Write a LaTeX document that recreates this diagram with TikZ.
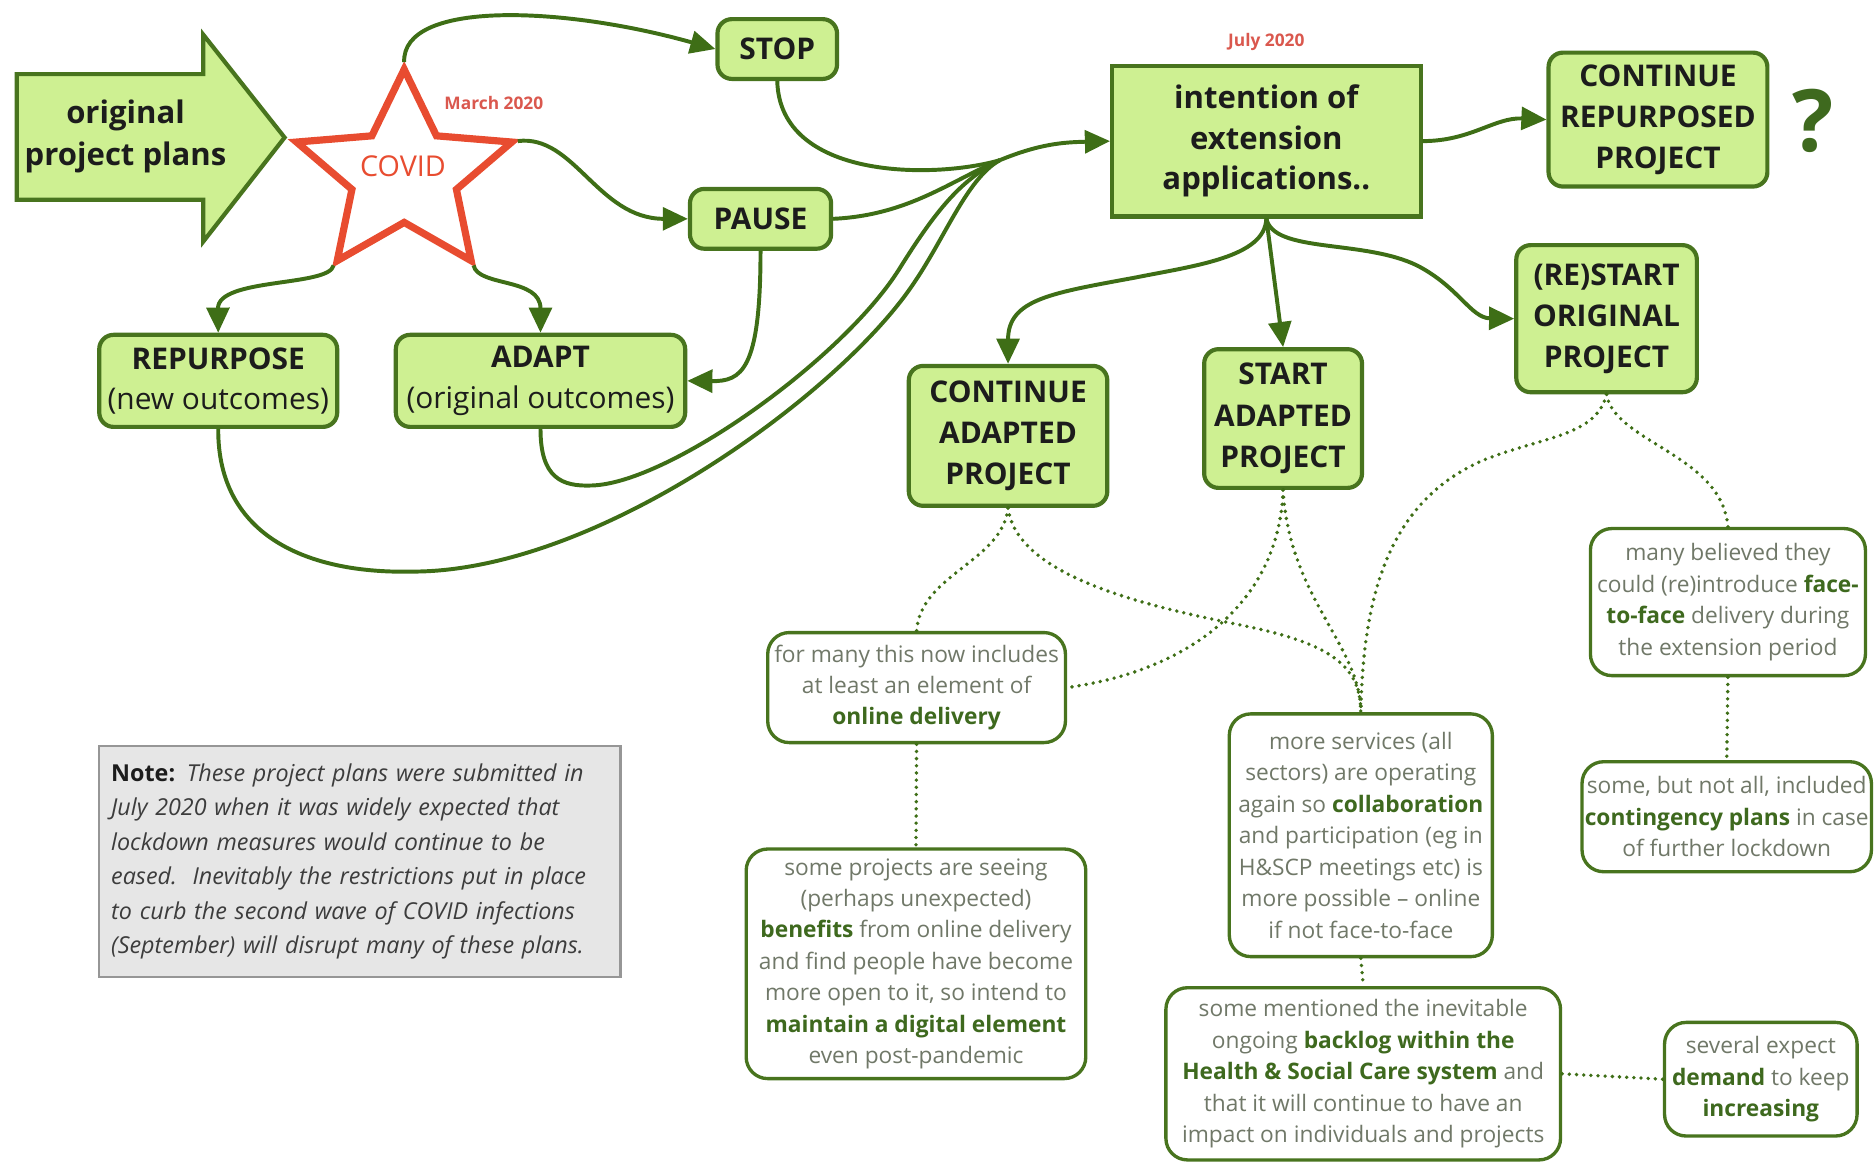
\documentclass[tikz,border=0pt]{standalone}
\usepackage{fontspec}
\setmainfont{Open Sans}
\usetikzlibrary{arrows.meta}

\definecolor{fillgreen}{RGB}{206,240,146}
\definecolor{edgegreen}{RGB}{72,116,30}
\definecolor{linegreen}{RGB}{62,110,22}
\definecolor{starred}{RGB}{232,76,48}
\definecolor{datered}{RGB}{218,88,78}
\definecolor{txtgrey}{RGB}{112,120,104}
\definecolor{hlgreen}{RGB}{62,105,30}
\definecolor{notefill}{RGB}{230,230,230}
\definecolor{noteedge}{RGB}{150,150,150}
\definecolor{notetext}{RGB}{60,60,60}
\definecolor{darktext}{RGB}{28,28,28}

\newcommand\hl[1]{\textbf{\color{hlgreen}#1}}

\begin{document}
\begin{tikzpicture}[x=1pt,y=-1pt,
  greenbox/.style={draw=edgegreen, fill=fillgreen, line width=3.5pt,
    rounded corners=12pt, align=center, text=darktext, inner sep=0pt,
    font={\fontsize{25}{34.5}\selectfont\bfseries}},
  greenboxmix/.style={greenbox, font={\fontsize{25}{34}\selectfont}},
  whitebox/.style={draw=edgegreen, fill=white, line width=2.8pt,
    rounded corners=18pt, align=center, text=txtgrey, inner sep=0pt,
    font={\fontsize{19}{26.3}\selectfont}},
  flow/.style={draw=linegreen, line width=3.3pt,
    -{Triangle[length=21pt,width=19pt]}},
  link/.style={draw=linegreen, line width=3.3pt},
  dots/.style={draw=linegreen, line width=3.2pt, line cap=round,
    dash pattern=on 0pt off 6pt},
  datelabel/.style={text=datered, font={\fontsize{14.5}{16}\selectfont\bfseries}}
]
\useasboundingbox (0,0) rectangle (1568,973);

% ---------- starting arrow ----------
\draw[draw=edgegreen, fill=fillgreen, line width=3.5pt, line join=miter]
  (14,62) -- (170,62) -- (170,29) -- (238,115) -- (170,202) -- (170,167)
  -- (14,167) -- cycle;
\node[align=center, text=darktext, font={\fontsize{26}{35}\selectfont\bfseries}]
  (plans) at (105,114) {original\\project plans};

% ---------- COVID star ----------
\draw[starred, line width=6pt, line join=miter, fill=white]
  (338,58) -- (365,113.6) -- (428,118.8) -- (381.7,158.4) -- (394,218)
  -- (338,186) -- (282,218) -- (294.3,158.4) -- (248,118.8)
  -- (311,113.6) -- cycle;
\node[text=starred, font={\fontsize{24}{28}\selectfont}] (covid) at (337,139) {COVID};
\node[datelabel] (march) at (413,86) {March 2020};
\coordinate (st-top) at (338,52);
\coordinate (st-ur) at (433,118);
\coordinate (st-ll) at (279,222);
\coordinate (st-lr) at (396,222);

% ---------- first reactions ----------
\node[greenbox, minimum width=100pt, minimum height=50pt] (stop) at (650,41) {STOP};
\node[greenbox, minimum width=118pt, minimum height=50pt] (pause) at (636,183) {PAUSE};
\node[greenboxmix, minimum width=199pt, minimum height=77pt] (repurpose) at (182.5,318.5)
  {\textbf{REPURPOSE}\\(new outcomes)};
\node[greenboxmix, minimum width=242pt, minimum height=77pt] (adapt) at (452,318.5)
  {\textbf{ADAPT}\\(original outcomes)};

% ---------- extension stage ----------
\node[greenbox, sharp corners, minimum width=258pt, minimum height=126pt, font={\fontsize{26}{34}\selectfont\bfseries}]
  (intent) at (1059,118) {intention of\\extension\\applications..};
\node[datelabel] (july) at (1059,35) {July 2020};
\node[greenbox, minimum width=183pt, minimum height=112pt] (contrep) at (1386.5,100)
  {CONTINUE\\REPURPOSED\\PROJECT};
\node[text=hlgreen, font={\fontsize{72}{72}\selectfont\bfseries}] (query) at (1516,101) {?};
\node[greenbox, minimum width=151pt, minimum height=123pt] (restart) at (1343.5,266.5)
  {(RE)START\\ORIGINAL\\PROJECT};
\node[greenbox, minimum width=166pt, minimum height=117pt] (contadapt) at (843,364.5)
  {CONTINUE\\ADAPTED\\PROJECT};
\node[greenbox, minimum width=132pt, minimum height=116pt] (startadapt) at (1073,350)
  {START\\ADAPTED\\PROJECT};

% ---------- findings ----------
\node[whitebox, minimum width=249pt, minimum height=92pt] (formany) at (766.5,575)
  {for many this now includes\\at least an element of\\\hl{online delivery}};
\node[whitebox, minimum width=284pt, minimum height=192pt] (projects) at (766,806)
  {some projects are seeing\\(perhaps unexpected)\\\hl{benefits} from online delivery\\
   and find people have become\\more open to it, so intend to\\
   \hl{maintain a digital element}\\even post-pandemic};
\node[whitebox, minimum width=220pt, minimum height=203pt] (services) at (1138,698.5)
  {more services (all\\sectors) are operating\\again so \hl{collaboration}\\
   and participation (eg in\\H\&SCP meetings etc) is\\more possible – online\\
   if not face-to-face};
\node[whitebox, minimum width=330pt, minimum height=144pt] (backlog) at (1140,898)
  {some mentioned the inevitable\\ongoing \hl{backlog within the}\\
   \hl{Health \& Social Care system} and\\that it will continue to have an\\
   impact on individuals and projects};
\node[whitebox, minimum width=161pt, minimum height=95pt] (several) at (1472.5,902.5)
  {several expect\\\hl{demand} to keep\\\hl{increasing}};
\node[whitebox, minimum width=230pt, minimum height=123pt] (believed) at (1445,503.5)
  {many believed they\\could (re)introduce \hl{face-}\\\hl{to-face} delivery during\\
   the extension period};
\node[whitebox, minimum width=242pt, minimum height=92pt] (contingency) at (1444,683)
  {some, but not all, included\\\hl{contingency plans} in case\\of further lockdown};

% ---------- note ----------
\node[draw=noteedge, fill=notefill, line width=2pt, minimum width=436pt,
  minimum height=193pt, text width=416pt, align=left, inner sep=0pt,
  text=notetext, font={\fontsize{19.5}{28.8}\selectfont}] (note) at (301,720.5)
  {\textbf{\color{darktext}Note:} {\itshape These project plans were submitted in}\\
   {\itshape July 2020 when it was widely expected that}\\
   {\itshape lockdown measures would continue to be}\\
   {\itshape eased.\ \ Inevitably the restrictions put in place}\\
   {\itshape to curb the second wave of COVID infections}\\
   {\itshape (September) will disrupt many of these plans.}};

% ---------- connectors from COVID ----------
\draw[flow] (st-top) .. controls (336,0) and (470,5) .. (stop.west);
\draw[flow] (st-ur) .. controls (480,112) and (500,183) .. (pause.west);
\draw[flow] (st-ll) .. controls (275,240) and (182,232) .. (repurpose.north);
\draw[flow] (st-lr) .. controls (400,240) and (452,232) .. (adapt.north);
\draw[flow] (pause.south) .. controls (636,310) and (620,319) .. (adapt.east);

% ---------- bundle into the extension applications ----------
\coordinate (merge) at (836,134);
\draw[link] (stop.south) .. controls (652,150) and (780,150) .. (merge);
\draw[link] (pause.east) .. controls (760,180) and (795,151) .. (merge);
\draw[link] (adapt.south) .. controls (452,400) and (470,407) .. (495,406)
  .. controls (560,404) and (705,300) .. (752,225)
  .. controls (785,172) and (805,150) .. (merge);
\draw[link] (repurpose.south) .. controls (182,450) and (260,480) .. (345,478)
  .. controls (500,478) and (700,330) .. (762,240)
  .. controls (790,200) and (808,150) .. (merge);
\draw[flow] (merge) .. controls (870,120) and (890,119) .. (intent.west);

% ---------- outcomes of the extension ----------
\draw[flow] (intent.east) .. controls (1230,118) and (1250,98) .. (contrep.west);
\draw[flow] (intent.south) .. controls (1058,215) and (1000,222) .. (950,232)
  .. controls (880,245) and (843,250) .. (contadapt.north);
\draw[flow] (intent.south) -- (startadapt.north);
\draw[flow] (intent.south) .. controls (1065,212) and (1140,200) .. (1185,222)
  .. controls (1220,240) and (1230,266) .. (restart.west);

% ---------- dotted links to findings ----------
\draw[dots] (contadapt.south) .. controls (838,470) and (770,480) .. (formany.north);
\draw[dots] (contadapt.south) .. controls (850,480) and (950,505) .. (1034,522)
  .. controls (1110,537) and (1138,555) .. (services.north);
\draw[dots] (startadapt.south) .. controls (1070,500) and (1000,560) .. (formany.east);
\draw[dots] (startadapt.south) .. controls (1078,500) and (1138,540) .. (services.north);
\draw[dots] (restart.south) .. controls (1335,365) and (1290,365) .. (1240,385)
  .. controls (1160,420) and (1140,500) .. (services.north);
\draw[dots] (restart.south) .. controls (1350,370) and (1440,380) .. (believed.north);
\draw[dots] (formany.south) -- (projects.north);
\draw[dots] (believed.south) -- (contingency.north);
\draw[dots] (services.south) -- (backlog.north);
\draw[dots] (backlog.east) -- (several.west);
\end{tikzpicture}
\end{document}
